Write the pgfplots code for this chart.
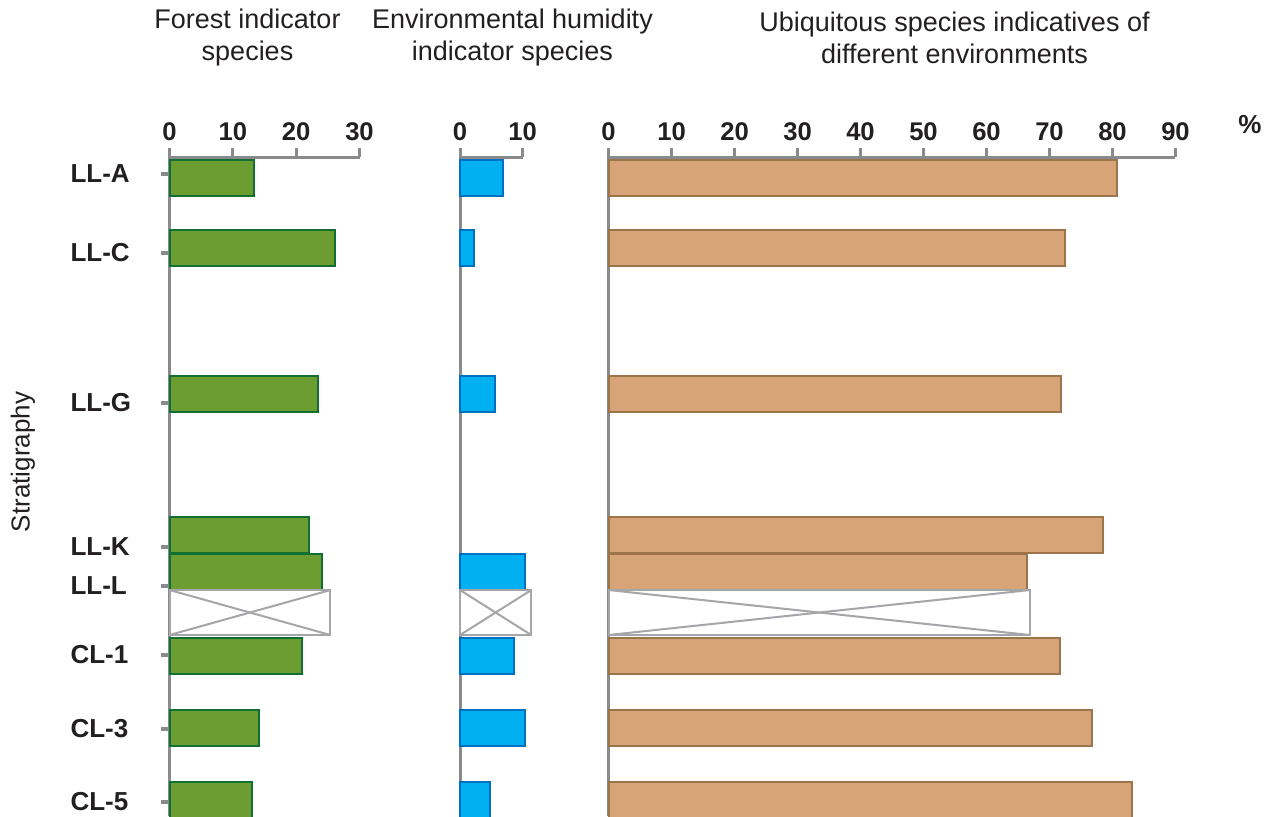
\documentclass[border=0pt]{standalone}
\usepackage{pgfplots}
\pgfplotsset{compat=1.18}
\usepackage{fontspec}
\setmainfont{Liberation Sans}

\definecolor{axisgray}{RGB}{137,138,142}
\definecolor{forestfill}{RGB}{107,157,49}
\definecolor{forestedge}{RGB}{16,112,52}
\definecolor{humidfill}{RGB}{0,176,240}
\definecolor{humidedge}{RGB}{0,112,192}
\definecolor{ubiqfill}{RGB}{214,164,119}
\definecolor{ubiqedge}{RGB}{156,116,73}
\definecolor{gapgray}{RGB}{165,165,170}
\definecolor{txt}{RGB}{35,31,32}

% stratigraphic depth is given in the vertical drawing units of the column
\pgfplotsset{
  strat/.style={
    scale only axis,
    height=329.5pt,
    y dir=reverse,
    ymin=157, ymax=816,
    axis x line=top,
    axis y line=left,
    axis line style={axisgray, line width=1.5pt, -},
    tick align=outside,
    major tick length=4.5pt,
    every tick/.style={axisgray, line width=1.5pt},
    every major tick/.append style={axisgray, line width=1.5pt},
    every y tick/.style={axisgray, line width=1.6pt},
    xticklabel style={font=\bfseries\fontsize{12.8}{15}\selectfont, text=txt},
    /pgf/number format/assume math mode=true,
    clip=false,
    anchor=north west,
  },
  bars/.style={xbar, bar width=36, bar shift=0pt, line width=1pt},
  gapbox/.style={xbar, bar width=45, bar shift=0pt, fill=white, draw=gapgray, line width=1pt},
  gapline/.style={gapgray, line width=1pt},
}

\begin{document}
\begin{tikzpicture}
\path[use as bounding box] (0,0) rectangle (637pt,-408pt);

% Forest indicator species
\begin{axis}[strat, at={(84.75pt,-78.5pt)}, width=95pt,
  xmin=0, xmax=30, xtick={0,10,20,30},
  ytick={174,253,403,547,586,655,729,802},
  yticklabels={LL-A,LL-C,LL-G,LL-K,LL-L,CL-1,CL-3,CL-5},
  yticklabel style={font=\bfseries\fontsize{13}{15}\selectfont, text=txt, anchor=west, xshift=-48.5pt}]
\addplot[bars, fill=forestfill, draw=forestedge] coordinates {
  (13.3,177.5) (26.1,248) (23.5,393.5) (22.0,535) (24.1,571.5)
  (20.9,655.5) (14.1,728) (13.0,799.5)};
\addplot[gapbox] coordinates {(25.4,612.5)};
\addplot[gapline] coordinates {(0,590) (25.4,635)};
\addplot[gapline] coordinates {(0,635) (25.4,590)};
\end{axis}

% Environmental humidity indicator species
\begin{axis}[strat, at={(230pt,-78.5pt)}, width=31.25pt,
  xmin=0, xmax=10, xtick={0,10}, ytick=\empty]
\addplot[bars, fill=humidfill, draw=humidedge] coordinates {
  (6.9,177.5) (2.2,248) (5.6,393.5) (10.4,571.5)
  (8.6,655.5) (10.4,728) (4.8,799.5)};
\addplot[gapbox] coordinates {(11.4,612.5)};
\addplot[gapline] coordinates {(0,590) (11.4,635)};
\addplot[gapline] coordinates {(0,635) (11.4,590)};
\end{axis}

% Ubiquitous species
\begin{axis}[strat, at={(304.25pt,-78.5pt)}, width=283.5pt,
  xmin=0, xmax=90, xtick={0,10,...,90}, ytick=\empty]
\addplot[bars, fill=ubiqfill, draw=ubiqedge] coordinates {
  (80.7,177.5) (72.5,248) (71.8,393.5) (78.5,535) (66.4,571.5)
  (71.7,655.5) (76.7,728) (83.1,799.5)};
\addplot[gapbox] coordinates {(66.9,612.5)};
\addplot[gapline] coordinates {(0,590) (66.9,635)};
\addplot[gapline] coordinates {(0,635) (66.9,590)};
\end{axis}

\begin{scope}[every node/.style={text=txt, font=\fontsize{13.5}{16}\selectfont, align=center}]
\node at (123.75pt,-19pt) {Forest indicator\\species};
\node at (256.25pt,-19pt) {Environmental humidity\\indicator species};
\node at (477.25pt,-19pt) {Ubiquitous species indicatives of\\different environments};
\node[font=\bfseries\fontsize{13}{15}\selectfont] at (625pt,-62.5pt) {\%};
\node[rotate=90, font=\fontsize{13}{16}\selectfont] at (11.5pt,-231pt) {Stratigraphy};
\end{scope}
\end{tikzpicture}
\end{document}
